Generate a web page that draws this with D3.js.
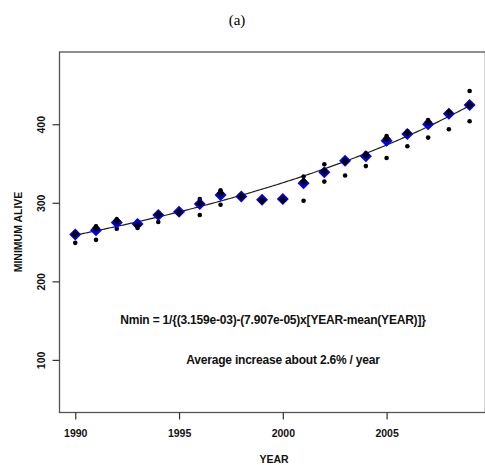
<!DOCTYPE html>
<html>
<head>
<meta charset="utf-8">
<script src="https://cdn.jsdelivr.net/npm/d3@7"></script>
<style>
  html, body { margin: 0; padding: 0; background: #fff; }
  svg { display: block; }
  text { font-family: "Liberation Sans", Arial, sans-serif; }
</style>
</head>
<body>
<svg id="chart" width="485" height="465"></svg>
<script>
// Yearly minimum-alive counts
const years = d3.range(1990, 2010);
const nminMean = [259.5, 265, 275, 273, 284.5, 288.7, 298.5, 310, 308, 304,
                  304.8, 325, 339, 353.4, 359.4, 379, 387.7, 400, 413.5, 424.5];
const nminAlt  = [260, 268, 277, 271, 285, 288, 299, 312, 308, 303,
                  304, 327, 340, 353, 361, 382, 389, 403, 415, 424.5];
const nminLow  = [249, 252.8, 267, 268, 275.6, 287, 284.5, 297.6, 306, 302,
                  303, 302.7, 327, 334.8, 346.7, 357, 372, 383, 393.6, 403.8];
const nminHigh = [262, 270, 279, 276, 287, 291, 304.8, 316, 310, 305,
                  306, 333.5, 349, 355, 363, 385, 391, 405.4, 415.6, 442.3];

// Fitted reciprocal-linear model: Nmin = 1/{a - b*(YEAR - mean(YEAR))}
const fitA = 3.159e-03;
const fitB = 7.907e-05;
const yearMean = 1998.9;

const xTicks = [1990, 1995, 2000, 2005];
const yTicks = [100, 200, 300, 400];

const svg = d3.select("#chart");

const x = d3.scaleLinear().domain([1989.24, 2009.76]).range([59.5, 485.4]);
const y = d3.scaleLinear().domain([33, 492]).range([412.5, 52]);

// Panel label
svg.append("text")
  .attr("x", 237).attr("y", 25)
  .attr("text-anchor", "middle")
  .style("font-family", "'Liberation Serif', 'DejaVu Serif', serif")
  .style("font-size", "15px")
  .text("(a)");

// Plot frame
svg.append("rect")
  .attr("x", x.range()[0]).attr("y", y.range()[1])
  .attr("width", x.range()[1] - x.range()[0])
  .attr("height", y.range()[0] - y.range()[1])
  .attr("fill", "none")
  .attr("stroke", "#555")
  .attr("stroke-width", 1.3);

// X axis
const gx = svg.append("g")
  .attr("transform", `translate(0,${y.range()[0]})`)
  .call(d3.axisBottom(x).tickValues(xTicks).tickFormat(d3.format("d"))
        .tickSize(7).tickPadding(10));
gx.select(".domain").remove();
gx.selectAll(".tick line").attr("stroke", "#333").attr("stroke-width", 1.2);
gx.selectAll(".tick text")
  .style("font-size", "10.5px").style("font-weight", "bold").attr("fill", "#111");

// Y axis with rotated labels
const gy = svg.append("g")
  .attr("transform", `translate(${x.range()[0]},0)`)
  .call(d3.axisLeft(y).tickValues(yTicks).tickFormat(d3.format("d")).tickSize(7));
gy.select(".domain").remove();
gy.selectAll(".tick line").attr("stroke", "#333").attr("stroke-width", 1.2);
gy.selectAll(".tick text")
  .attr("x", null).attr("dy", null)
  .attr("text-anchor", "middle")
  .attr("transform", "translate(-15,0) rotate(-90)")
  .style("font-size", "10.5px").style("font-weight", "bold").attr("fill", "#111");

// Axis titles
svg.append("text")
  .attr("x", 274).attr("y", 462.5)
  .attr("text-anchor", "middle")
  .style("font-size", "10.5px").style("font-weight", "bold").attr("fill", "#111")
  .text("YEAR");
svg.append("text")
  .attr("transform", "translate(21.5,232) rotate(-90)")
  .attr("text-anchor", "middle")
  .style("font-size", "10.5px").style("font-weight", "bold").attr("fill", "#111")
  .text("MINIMUM ALIVE");

// Fitted curve
const fitYears = d3.range(1990, 2009.001, 0.1);
const line = d3.line()
  .x(d => x(d))
  .y(d => y(1 / (fitA - fitB * (d - yearMean))));
svg.append("path")
  .datum(fitYears)
  .attr("d", line)
  .attr("fill", "none")
  .attr("stroke", "#222")
  .attr("stroke-width", 1.2);

const diamond = r => `M0,${-r}L${r},0L0,${r}L${-r},0Z`;

// Low / high estimates: small dots
const dots = svg.append("g");
[nminLow, nminHigh].forEach(series => {
  dots.selectAll(null)
    .data(years.map((yr, i) => [yr, series[i]]))
    .join("circle")
    .attr("cx", d => x(d[0])).attr("cy", d => y(d[1]))
    .attr("r", 2.3)
    .attr("fill", "#000");
});

// Main estimates: blue diamonds
svg.append("g").selectAll("path")
  .data(years.map((yr, i) => [yr, nminMean[i]]))
  .join("path")
  .attr("transform", d => `translate(${x(d[0])},${y(d[1])})`)
  .attr("d", diamond(6))
  .attr("fill", "#0000ee");

// Alternative estimates: black diamonds
svg.append("g").selectAll("path")
  .data(years.map((yr, i) => [yr, nminAlt[i]]))
  .join("path")
  .attr("transform", d => `translate(${x(d[0])},${y(d[1])})`)
  .attr("d", diamond(4))
  .attr("fill", "#000");

// Model annotation
svg.append("text")
  .attr("x", 273).attr("y", 324)
  .attr("text-anchor", "middle")
  .style("font-size", "12px").style("font-weight", "bold").attr("fill", "#111")
  .style("letter-spacing", "-0.2px")
  .text("Nmin = 1/{(3.159e-03)-(7.907e-05)x[YEAR-mean(YEAR)]}");
svg.append("text")
  .attr("x", 283).attr("y", 364)
  .attr("text-anchor", "middle")
  .style("font-size", "12px").style("font-weight", "bold").attr("fill", "#111")
  .style("letter-spacing", "-0.2px")
  .text("Average increase about 2.6% / year");
</script>
</body>
</html>
